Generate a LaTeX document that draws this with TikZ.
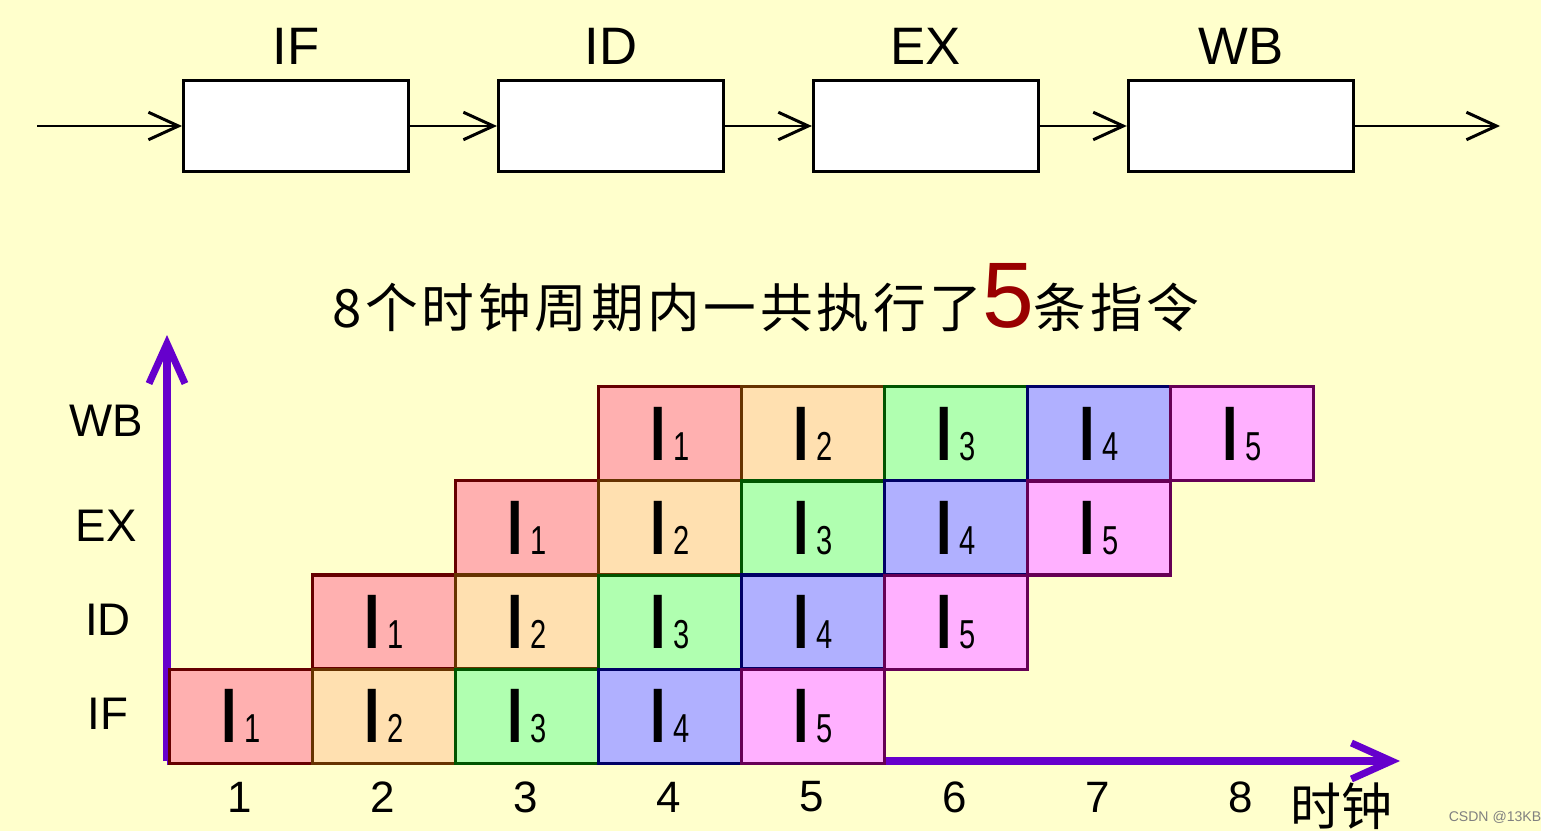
\documentclass[tikz,border=0pt]{standalone}
\usepackage{fontspec}
\setmainfont{Liberation Sans}
\newfontfamily\cjk{Noto Sans CJK SC}
\newfontfamily\narrowsans[FakeStretch=0.72]{Liberation Sans}
\usetikzlibrary{matrix,positioning,arrows.meta}

\definecolor{paper}{RGB}{255,255,204}
\definecolor{axispurple}{RGB}{102,0,204}
\definecolor{darkfive}{RGB}{153,0,0}
\definecolor{fillA}{RGB}{255,176,176}
\definecolor{lineA}{RGB}{102,0,0}
\definecolor{fillB}{RGB}{255,224,176}
\definecolor{lineB}{RGB}{102,51,0}
\definecolor{fillC}{RGB}{176,255,176}
\definecolor{lineC}{RGB}{0,85,0}
\definecolor{fillD}{RGB}{176,176,255}
\definecolor{lineD}{RGB}{0,0,102}
\definecolor{fillE}{RGB}{255,176,255}
\definecolor{lineE}{RGB}{102,0,85}

\newcommand{\instr}[1]{{\narrowsans\fontsize{44}{44}\selectfont\bfseries I\hspace{4pt}\mdseries\fontsize{23}{23}\selectfont #1}}

\tikzset{
  stage/.style={draw, line width=1.7pt, fill=white, minimum width=4.5cm, minimum height=1.82cm},
  stagename/.style={font=\fontsize{30}{30}\selectfont},
  flow/.style={line width=1.7pt, -{Straight Barb[length=0.6cm,width=0.55cm]}},
  axisarrow/.style={draw=axispurple, line width=4pt, -{Straight Barb[length=0.8cm,width=0.72cm]}},
  slot/.style={draw, line width=1.8pt, outer sep=0pt, minimum width=2.86cm, minimum height=1.88cm},
  iA/.style={fill=fillA, draw=lineA},
  iB/.style={fill=fillB, draw=lineB},
  iC/.style={fill=fillC, draw=lineC},
  iD/.style={fill=fillD, draw=lineD},
  iE/.style={fill=fillE, draw=lineE},
  rowname/.style={font=\fontsize{26}{26}\selectfont},
  clocknum/.style={font=\fontsize{25}{25}\selectfont},
}

\begin{document}
\begin{tikzpicture}[x=0.02cm, y=-0.02cm, node distance=1.74cm]
\fill[paper] (0,0) rectangle (1541,831);
\useasboundingbox (0,0) rectangle (1541,831);

    % Stages
\node[stage] (if) at (296,126) {};
\node[stage, right=of if] (id) {};
\node[stage, right=of id] (ex) {};
\node[stage, right=of ex] (wb) {};
\node[stagename, above=0.3cm of if, anchor=base] (ifname) {IF};
\node[stagename, above=0.3cm of id, anchor=base] (idname) {ID};
\node[stagename, above=0.3cm of ex, anchor=base] (exname) {EX};
\node[stagename, above=0.3cm of wb, anchor=base] (wbname) {WB};
\coordinate (in) at (37,126);
\coordinate (out) at (1500,126);
\draw[flow] (in) -- (if);
\draw[flow] (if) -- (id);
\draw[flow] (id) -- (ex);
\draw[flow] (ex) -- (wb);
\draw[flow] (wb) -- (out);

    % Title
\node[anchor=base, font=\cjk\fontsize{30}{30}\selectfont\addfontfeature{LetterSpace=7}] (claim) at (766,327)
  {8个时钟周期内一共执行了{\color{darkfive}\rmfamily\fontsize{53}{53}\selectfont 5}条指令};

    % Axes
\coordinate (origin) at (167,761);
\coordinate (ytip) at (167,335);
\coordinate (xtip) at (1400,761);
\draw[axisarrow] (origin) -- (ytip);
\draw[axisarrow] (origin) -- (xtip);

    % Pipeline
\matrix (P) [matrix of nodes, nodes={slot},
column sep=-1.8pt, row sep=-1.8pt, inner sep=0pt, outer sep=0pt,
anchor=north west] at (168,385)
{
    & & & |[iA]| \instr{1} & |[iB]| \instr{2} & |[iC]| \instr{3} & |[iD]| \instr{4} & |[iE]| \instr{5} \\
    & & |[iA]| \instr{1} & |[iB]| \instr{2} & |[iC]| \instr{3} & |[iD]| \instr{4} & |[iE]| \instr{5} \\
    & |[iA]| \instr{1} & |[iB]| \instr{2} & |[iC]| \instr{3} & |[iD]| \instr{4} & |[iE]| \instr{5} \\
    |[iA]| \instr{1} & |[iB]| \instr{2} & |[iC]| \instr{3} & |[iD]| \instr{4} & |[iE]| \instr{5} \\
};

\node[rowname] (wbrow) at (106,421) {WB};
\node[rowname] (exrow) at (106,526) {EX};
\node[rowname] (idrow) at (108,620) {ID};
\node[rowname] (ifrow) at (108,714) {IF};

\foreach \n in {1,...,8}
  \node[clocknum] (c\n) at ({240+143*(\n-1)},797) {\n};
\node[font=\cjk\fontsize{29}{29}\selectfont] (clock) at (1341,806) {时钟};

\node[font=\fontsize{8}{8}\selectfont, text=gray] (mark) at (1495,817) {CSDN @13KB};
\end{tikzpicture}
\end{document}
